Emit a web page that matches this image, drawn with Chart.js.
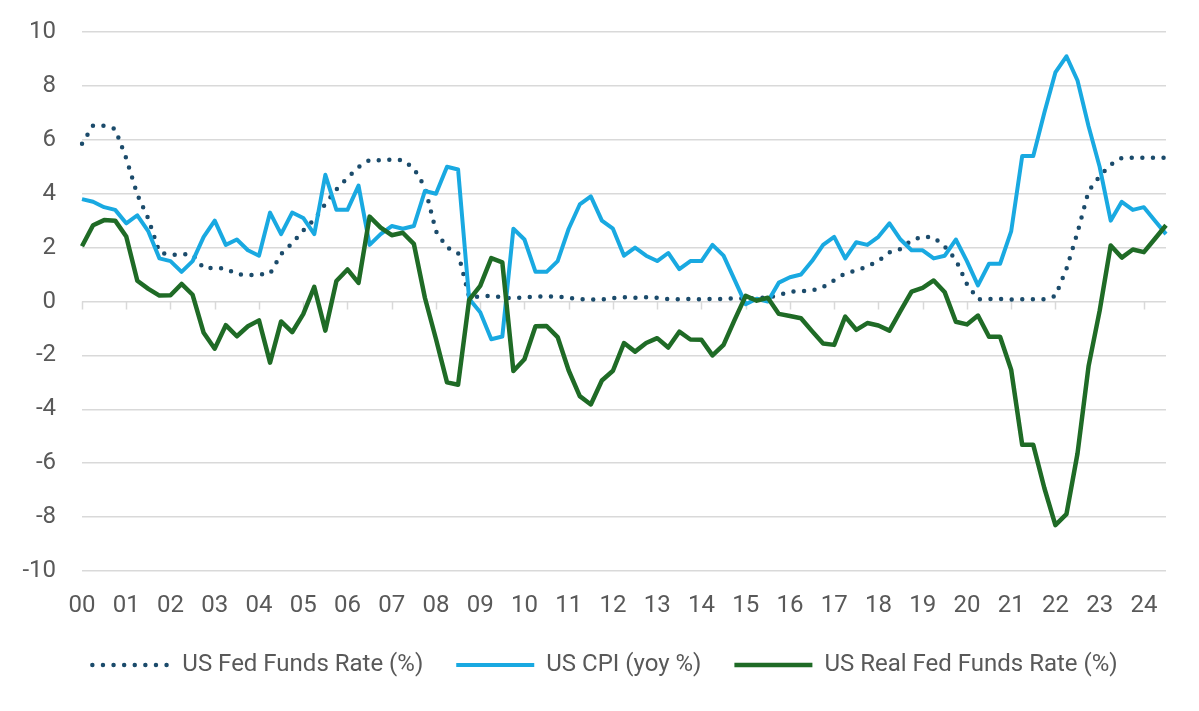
<!DOCTYPE html>
<html>
<head>
<meta charset="utf-8">
<script src="https://cdn.jsdelivr.net/npm/chart.js@4.4.0/dist/chart.umd.min.js"></script>
<style>
  html, body { margin: 0; padding: 0; background: #ffffff; }
  #wrap { width: 1199px; height: 711px; position: relative; }
</style>
</head>
<body>
<div id="wrap"><canvas id="c" width="1199" height="711"></canvas></div>
<script>
// ---- Data (quarterly, 2000Q1 .. 2024Q3) ----
const yearLabels = ['00','01','02','03','04','05','06','07','08','09','10','11','12',
                    '13','14','15','16','17','18','19','20','21','22','23','24'];
const quarterNames = ['Q1','Q2','Q3','Q4'];

const fedFunds = [
  5.85, 6.53, 6.52, 6.40,   // 00
  5.31, 3.97, 3.07, 1.82,   // 01
  1.73, 1.75, 1.75, 1.24,   // 02
  1.25, 1.22, 1.01, 0.98,   // 03
  1.00, 1.03, 1.76, 2.16,   // 04
  2.63, 3.04, 3.62, 4.16,   // 05
  4.59, 4.99, 5.25, 5.24,   // 06
  5.26, 5.25, 4.94, 4.24,   // 07
  2.61, 2.00, 1.81, 0.16,   // 08
  0.18, 0.21, 0.15, 0.12,   // 09
  0.16, 0.18, 0.19, 0.18,   // 10
  0.14, 0.09, 0.08, 0.07,   // 11
  0.13, 0.16, 0.14, 0.16,   // 12
  0.14, 0.09, 0.08, 0.09,   // 13
  0.08, 0.10, 0.09, 0.12,   // 14
  0.11, 0.13, 0.14, 0.24,   // 15
  0.36, 0.38, 0.40, 0.54,   // 16
  0.79, 1.04, 1.15, 1.30,   // 17
  1.51, 1.82, 1.95, 2.27,   // 18
  2.41, 2.38, 2.04, 1.55,   // 19
  0.65, 0.08, 0.09, 0.09,   // 20
  0.07, 0.08, 0.08, 0.08,   // 21
  0.20, 1.21, 2.56, 4.10,   // 22
  4.65, 5.08, 5.33, 5.33,   // 23
  5.33, 5.33, 5.33          // 24
];

const cpiYoy = [
  3.8, 3.7, 3.5, 3.4,
  2.9, 3.2, 2.6, 1.6,
  1.5, 1.1, 1.5, 2.4,
  3.0, 2.1, 2.3, 1.9,
  1.7, 3.3, 2.5, 3.3,
  3.1, 2.5, 4.7, 3.4,
  3.4, 4.3, 2.1, 2.5,
  2.8, 2.7, 2.8, 4.1,
  4.0, 5.0, 4.9, 0.1,
  -0.4, -1.4, -1.3, 2.7,
  2.3, 1.1, 1.1, 1.5,
  2.7, 3.6, 3.9, 3.0,
  2.7, 1.7, 2.0, 1.7,
  1.5, 1.8, 1.2, 1.5,
  1.5, 2.1, 1.7, 0.8,
  -0.1, 0.1, 0.0, 0.7,
  0.9, 1.0, 1.5, 2.1,
  2.4, 1.6, 2.2, 2.1,
  2.4, 2.9, 2.3, 1.9,
  1.9, 1.6, 1.7, 2.3,
  1.5, 0.6, 1.4, 1.4,
  2.6, 5.4, 5.4, 7.0,
  8.5, 9.1, 8.2, 6.5,
  5.0, 3.0, 3.7, 3.4,
  3.5, 3.0, 2.5
];

const realFedFunds = [
  2.05, 2.83, 3.02, 3.00,
  2.41, 0.77, 0.47, 0.22,
  0.23, 0.65, 0.25, -1.16,
  -1.75, -0.88, -1.29, -0.92,
  -0.70, -2.27, -0.74, -1.14,
  -0.47, 0.54, -1.08, 0.76,
  1.19, 0.69, 3.15, 2.74,
  2.46, 2.55, 2.14, 0.14,
  -1.39, -3.00, -3.09, 0.06,
  0.58, 1.61, 1.45, -2.58,
  -2.14, -0.92, -0.91, -1.32,
  -2.56, -3.51, -3.82, -2.93,
  -2.57, -1.54, -1.86, -1.54,
  -1.36, -1.71, -1.12, -1.41,
  -1.42, -2.00, -1.61, -0.68,
  0.21, 0.03, 0.14, -0.46,
  -0.54, -0.62, -1.10, -1.56,
  -1.61, -0.56, -1.05, -0.80,
  -0.89, -1.08, -0.35, 0.37,
  0.51, 0.78, 0.34, -0.75,
  -0.85, -0.52, -1.31, -1.31,
  -2.53, -5.32, -5.32, -6.92,
  -8.30, -7.89, -5.64, -2.40,
  -0.35, 2.08, 1.63, 1.93,
  1.83, 2.33, 2.83
];

const seriesNames = ['US Fed Funds Rate (%)', 'US CPI (yoy %)', 'US Real Fed Funds Rate (%)'];

// category labels built from year labels (one per quarter)
const categories = [];
yearLabels.forEach(y => quarterNames.forEach(q => categories.push(y + q)));
categories.length = fedFunds.length;

const TEXT = '#595959';
const GRID = '#d9d9d9';
const FONT = 'Roboto, "Liberation Sans", sans-serif';

const zeroTicks = {
  id: 'zeroTicks',
  beforeDatasetsDraw(chart) {
    const {ctx, scales: {x, y}} = chart;
    const y0 = y.getPixelForValue(0);
    ctx.save();
    ctx.strokeStyle = GRID;
    ctx.lineWidth = 1.5;
    ctx.beginPath();
    for (let i = 0; i < categories.length; i += 4) {
      const px = Math.round(x.getPixelForValue(i)) + 0.5;
      ctx.moveTo(px, y0);
      ctx.lineTo(px, y0 + 8);
    }
    ctx.stroke();
    ctx.restore();
  }
};

new Chart(document.getElementById('c'), {
  type: 'line',
  data: {
    labels: categories,
    datasets: [
      {
        label: seriesNames[0],
        data: fedFunds,
        borderColor: '#1b4b6b',
        backgroundColor: '#1b4b6b',
        borderWidth: 4.5,
        borderDash: [0, 10.6],
        borderCapStyle: 'round',
        borderJoinStyle: 'round',
        pointRadius: 0,
        tension: 0,
        order: 3
      },
      {
        label: seriesNames[1],
        data: cpiYoy,
        borderColor: '#19a9e1',
        backgroundColor: '#19a9e1',
        borderWidth: 4,
        borderCapStyle: 'butt',
        borderJoinStyle: 'round',
        pointRadius: 0,
        tension: 0,
        order: 2
      },
      {
        label: seriesNames[2],
        data: realFedFunds,
        borderColor: '#1f6b26',
        backgroundColor: '#1f6b26',
        borderWidth: 4.5,
        borderCapStyle: 'butt',
        borderJoinStyle: 'round',
        pointRadius: 0,
        tension: 0,
        order: 1
      }
    ]
  },
  options: {
    responsive: false,
    animation: false,
    devicePixelRatio: 1,
    layout: { padding: { left: 11, right: 0, top: 32, bottom: 24 } },
    plugins: {
      tooltip: { enabled: false },
      legend: {
        position: 'bottom',
        align: 'center',
        labels: {
          usePointStyle: true,
          pointStyle: 'line',
          pointStyleWidth: 78,
          padding: 33,
          color: TEXT,
          font: { family: FONT, size: 24 },
          sort: (a, b) => a.datasetIndex - b.datasetIndex,
          generateLabels(chart) {
            const items = Chart.defaults.plugins.legend.labels.generateLabels(chart);
            items.forEach(it => {
              const ds = chart.data.datasets[it.datasetIndex];
              it.lineDash = ds.borderDash || [];
              it.lineCap = ds.borderCapStyle || 'butt';
              it.lineWidth = ds.borderWidth;
              it.strokeStyle = ds.borderColor;
              it.fillStyle = ds.borderColor;
              it.pointStyle = 'line';
            });
            return items;
          }
        }
      }
    },
    scales: {
      x: {
        type: 'category',
        offset: false,
        grid: { display: false, drawTicks: false },
        border: { display: false },
        afterFit(scale) { scale.height = 49; },
        ticks: {
          autoSkip: false,
          maxRotation: 0,
          minRotation: 0,
          padding: 21,
          color: TEXT,
          font: { family: FONT, size: 24 },
          callback(value, index) {
            return index % 4 === 0 ? yearLabels[index / 4] : '';
          }
        }
      },
      y: {
        min: -10,
        max: 10,
        grid: { color: GRID, lineWidth: 1.5, drawTicks: false },
        border: { display: false },
        afterFit(scale) { scale.width = 71; scale.paddingTop = 0; scale.paddingBottom = 0; },
        ticks: {
          stepSize: 2,
          padding: 26,
          color: TEXT,
          font: { family: FONT, size: 24 },
          callback(value) { return String(value); }
        }
      },
      yRightSpace: {
        position: 'right',
        display: true,
        grid: { display: false, drawTicks: false },
        border: { display: false },
        ticks: { display: false },
        afterFit(scale) { scale.width = 33; }
      }
    }
  },
  plugins: [zeroTicks]
});
</script>
</body>
</html>
